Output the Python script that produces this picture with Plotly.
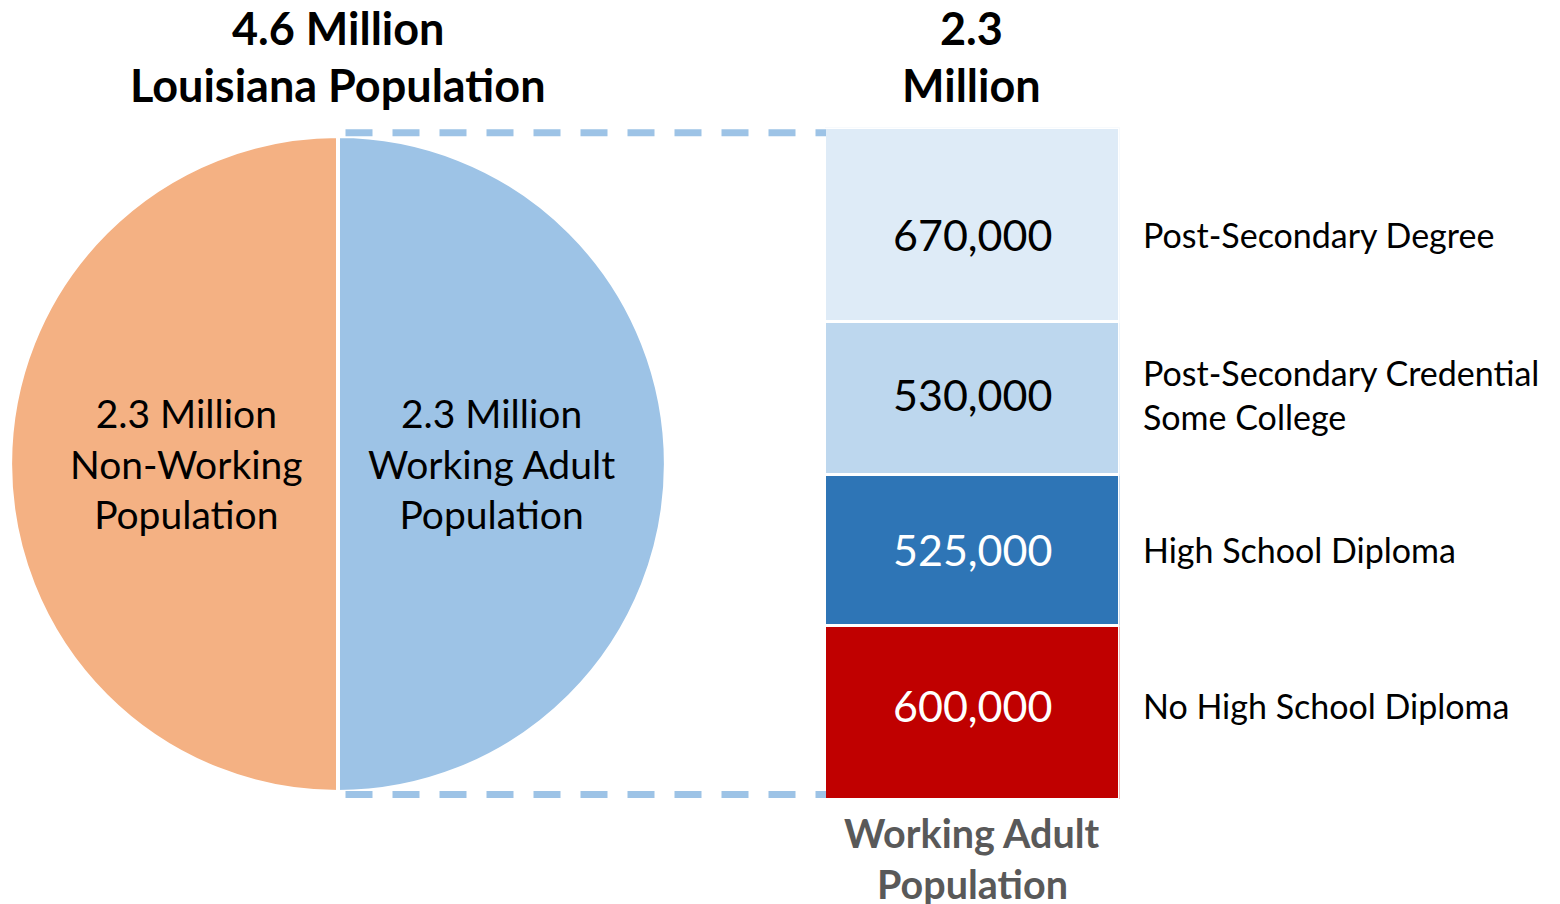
import plotly.graph_objects as go

# ---- data ----
pie_labels = ["Working Adult Population", "Non-Working Population"]
pie_values = [2.3, 2.3]
pie_colors = ["#9dc3e6", "#f4b183"]

edu_labels = ["No High School Diploma", "High School Diploma",
              "Post-Secondary Credential<br>Some College", "Post-Secondary Degree"]
edu_values = [600000, 525000, 530000, 670000]
edu_colors = ["#c00000", "#2e75b6", "#bdd7ee", "#deebf7"]
edu_text_colors = ["white", "white", "black", "black"]

title_left_lines = ["4.6 Million", "Louisiana Population"]
title_right_lines = ["2.3", "Million"]
bottom_label_lines = ["Working Adult", "Population"]

# style: vertical nudge (px) of each segment's texts
text_nudges = [7, 0, 3, -10]

W, H = 1560, 904
FONT = "Lato"

def px_x(x):
    return x / W

def px_y(y):
    return 1 - y / H

fig = go.Figure()

fig.add_trace(go.Pie(
    labels=pie_labels, values=pie_values, sort=False, direction="clockwise",
    rotation=0, marker=dict(colors=pie_colors, line=dict(color="white", width=4)),
    textinfo="none", hoverinfo="label+value", showlegend=False,
    domain=dict(x=[px_x(10), px_x(666)], y=[px_y(792), px_y(136)]),
))

for v, c, lab in zip(edu_values, edu_colors, edu_labels):
    fig.add_trace(go.Bar(
        x=[0], y=[v], name=lab, marker=dict(color=c, line=dict(color="white", width=3)),
        showlegend=False, width=1, xaxis="x", yaxis="y", hoverinfo="name+y",
    ))

total = sum(edu_values)
cum = 0
annotations = []
for v, lab, tc, nud in zip(edu_values, edu_labels, edu_text_colors, text_nudges):
    mid = cum + v / 2
    cum += v
    annotations.append(dict(
        x=0, xref="x", y=mid, yref="y", text=f"{v:,}", showarrow=False,
        xanchor="center", yanchor="middle", yshift=nud,
        font=dict(family=FONT, size=43, color=tc),
    ))
    annotations.append(dict(
        x=px_x(1141), xref="paper", y=mid, yref="y", text=lab, showarrow=False,
        xanchor="left", yanchor="middle", align="left", yshift=nud,
        font=dict(family=FONT, size=34, color="black"),
    ))

# pie labels
pie_centers = [491, 186]
for lab, v, cx in zip(pie_labels, pie_values, pie_centers):
    words = lab.replace(" Population", "<br>Population")
    annotations.append(dict(
        x=px_x(cx), xref="paper", y=px_y(463), yref="paper",
        text=f"{v} Million<br>{words}", showarrow=False,
        xanchor="center", yanchor="middle", align="center",
        font=dict(family=FONT, size=39, color="black"),
    ))

def add_lines(lines, cx, ys, size, color):
    for t, yy in zip(lines, ys):
        annotations.append(dict(x=px_x(cx), y=px_y(yy), xref="paper", yref="paper",
                                text=f"<b>{t}</b>", showarrow=False, xanchor="center",
                                yanchor="middle", font=dict(family=FONT, size=size, color=color)))

add_lines(title_left_lines, 338, [28, 85], 45, "black")
add_lines(title_right_lines, 971, [28, 85], 45, "black")
add_lines(bottom_label_lines, 972, [832, 883], 39.5, "#595959")

shapes = []
for yy in (132.7, 794.5):
    shapes.append(dict(type="line", xref="paper", yref="paper",
                       x0=px_x(345.5), x1=px_x(826), y0=px_y(yy), y1=px_y(yy),
                       line=dict(color="#9dc3e6", width=7, dash="27px,20px")))

fig.update_layout(
    width=W, height=H, margin=dict(l=0, r=0, t=0, b=0),
    paper_bgcolor="white", plot_bgcolor="white",
    barmode="stack", bargap=0,
    xaxis=dict(domain=[px_x(825), px_x(1119.5)], range=[-0.5, 0.5], visible=False, fixedrange=True),
    yaxis=dict(domain=[px_y(799), px_y(127.5)], range=[0, total], visible=False, fixedrange=True),
    annotations=annotations, shapes=shapes,
    font=dict(family=FONT),
)

fig.write_html("out.html", config=dict(displayModeBar=False),
               post_script="document.body.style.margin='0';document.body.style.overflow='hidden';")
